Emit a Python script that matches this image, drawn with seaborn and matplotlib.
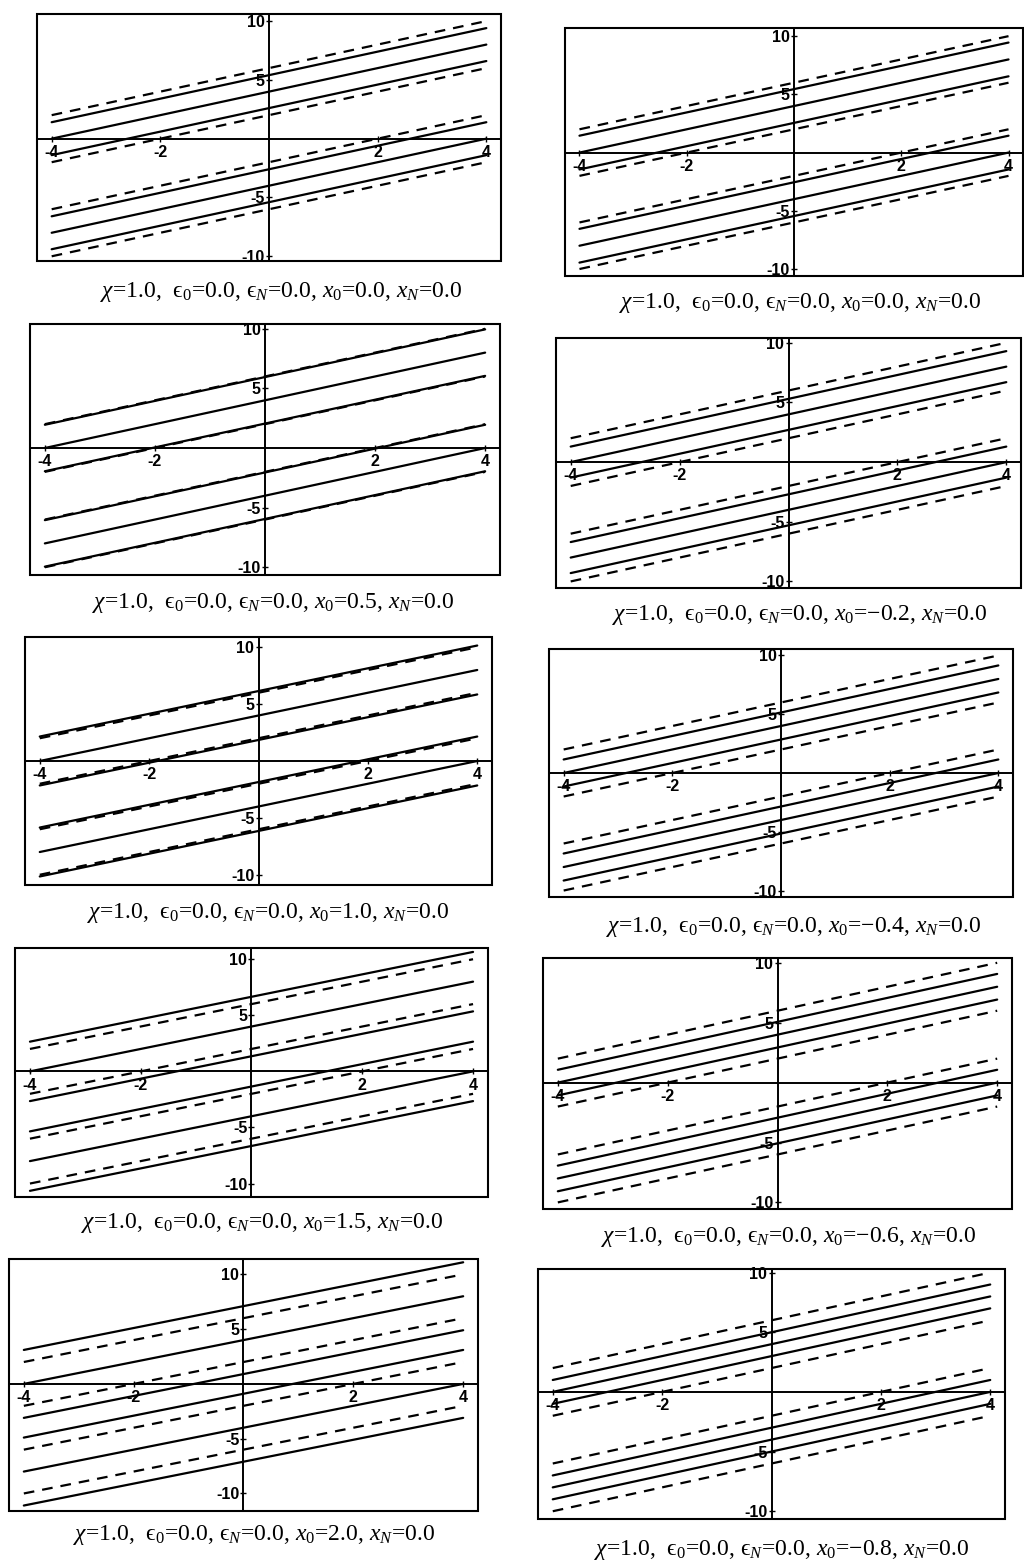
"""Ten panels of straight solution bands for several x0 values."""

import matplotlib
matplotlib.use("Agg")

import matplotlib.pyplot as plt
import pandas as pd
import seaborn as sns
from matplotlib.patches import Rectangle

W, H = 1024, 1561

# line end points are read at x = -4 and x = 4
LINE_X = [-4.0, 4.0]

X0_VALUES = [0.0, 0.0, 0.5, -0.2, 1.0, -0.4, 1.5, -0.6, 2.0, -0.8]

SOLID_LEFT = [
    [1.4, 0.0, -1.4, -6.6, -8.0, -9.4],
    [1.45, 0.0, -1.45, -6.55, -8.0, -9.45],
    [1.95, 0.0, -1.95, -6.05, -8.0, -9.95],
    [1.3, 0.0, -1.3, -6.7, -8.0, -9.3],
    [2.15, 0.0, -2.15, -5.85, -8.0, -10.15],
    [1.15, 0.0, -1.15, -6.85, -8.0, -9.15],
    [2.65, 0.0, -2.65, -5.35, -8.0, -10.65],
    [1.07, 0.0, -1.07, -6.93, -8.0, -9.07],
    [3.1, 0.0, -3.1, -4.9, -8.0, -11.1],
    [1.0, 0.0, -1.0, -7.0, -8.0, -9.0],
]
SOLID_RIGHT = [
    [9.4, 8.0, 6.6, 1.4, 0.0, -1.4],
    [9.45, 8.0, 6.55, 1.45, 0.0, -1.45],
    [9.95, 8.0, 6.05, 1.95, 0.0, -1.95],
    [9.3, 8.0, 6.7, 1.3, 0.0, -1.3],
    [10.15, 8.0, 5.85, 2.15, 0.0, -2.15],
    [9.15, 8.0, 6.85, 1.15, 0.0, -1.15],
    [10.65, 8.0, 5.35, 2.65, 0.0, -2.65],
    [9.07, 8.0, 6.93, 1.07, 0.0, -1.07],
    [11.1, 8.0, 4.9, 3.1, 0.0, -3.1],
    [9.0, 8.0, 7.0, 1.0, 0.0, -1.0],
]
DASHED_LEFT = [2.0, -2.0, -6.0, -10.0]
DASHED_RIGHT = [10.0, 6.0, 2.0, -2.0]

Y_LIMITS = [
    (-10.4, 10.6), (-10.6, 10.7), (-10.65, 10.4), (-10.55, 10.4), (-10.9, 10.9),
    (-10.55, 10.55), (-11.2, 11.0), (-10.55, 10.4), (-11.6, 11.4), (-10.65, 10.3),
]
X_TICKS = [-4, -2, 2, 4]
Y_TICKS = [-10, -5, 5, 10]

# frame boxes in pixels: left, right, top, bottom ; caption centre x, y
FRAMES = [
    (37, 501, 14, 261), (565, 1023, 28, 276),
    (30, 500, 324, 575), (556, 1021, 338, 588),
    (25, 492, 637, 885), (549, 1013, 649, 897),
    (15, 488, 948, 1197), (543, 1012, 958, 1209),
    (9, 478, 1259, 1511), (538, 1005, 1269, 1519),
]
CAPTIONS_AT = [
    (281, 292), (800, 303), (273, 603), (800, 615), (268, 913),
    (794, 927), (262, 1223), (789, 1237), (254, 1535), (782, 1550),
]

sns.set_style("white")
plt.rcParams["font.family"] = ["Liberation Sans", "DejaVu Sans"]
plt.rcParams["axes.unicode_minus"] = False
plt.rcParams["mathtext.fontset"] = "custom"
plt.rcParams["mathtext.rm"] = "Liberation Serif"
plt.rcParams["mathtext.it"] = "Liberation Serif:italic"
plt.rcParams["mathtext.bf"] = "Liberation Serif:bold"
plt.rcParams["mathtext.fallback"] = "stix"


def band_frame(left_vals, right_vals, kind):
    rows = []
    for k, (a, b) in enumerate(zip(left_vals, right_vals)):
        rows.append({"x": LINE_X[0], "y": a, "curve": f"{kind}{k}", "kind": kind})
        rows.append({"x": LINE_X[1], "y": b, "curve": f"{kind}{k}", "kind": kind})
    return rows


fig = plt.figure(figsize=(W / 100, H / 100), dpi=100)
fig.patch.set_facecolor("white")

for i, x0 in enumerate(X0_VALUES):
    l, r, t, b = FRAMES[i]
    ax = fig.add_axes([l / W, 1 - b / H, (r - l) / W, (b - t) / H])
    ax.set_facecolor("white")

    data = pd.DataFrame(
        band_frame(SOLID_LEFT[i], SOLID_RIGHT[i], "solid")
        + band_frame(DASHED_LEFT, DASHED_RIGHT, "dashed")
    )
    sns.lineplot(
        data=data, x="x", y="y", units="curve", style="kind",
        dashes={"solid": "", "dashed": (4.8, 3.6)},
        estimator=None, sort=False, color="black", lw=1.6,
        legend=False, ax=ax,
    )

    ax.set_xlim(-4.27, 4.27)
    ax.set_ylim(*Y_LIMITS[i])
    ax.set_xlabel("")
    ax.set_ylabel("")
    ax.spines["top"].set_visible(False)
    ax.spines["right"].set_visible(False)
    ax.spines["left"].set_position("zero")
    ax.spines["bottom"].set_position("zero")
    for side in ("left", "bottom"):
        ax.spines[side].set_linewidth(1.4)
        ax.spines[side].set_color("black")
    ax.add_patch(Rectangle((0, 0), 1, 1, transform=ax.transAxes, fill=False,
                           lw=1.5, ec="black", clip_on=False, zorder=5))

    ax.set_xticks(X_TICKS, labels=[str(v) for v in X_TICKS],
                  fontweight="bold", fontsize=11.5)
    ax.set_yticks(Y_TICKS, labels=[str(v) for v in Y_TICKS],
                  fontweight="bold", fontsize=11.5)
    ax.tick_params(axis="x", direction="inout", length=4, width=1, pad=2.5,
                   colors="black", bottom=True)
    ax.tick_params(axis="y", direction="inout", length=4, width=1, pad=1.0,
                   colors="black", left=True)

    x0_txt = f"{x0:.1f}".replace("-", "\u2212")
    caption = ("$\\chi$=1.0,  $\\mathrm{\u03f5}_0$=0.0, "
               "$\\mathrm{\u03f5}_N$=0.0, "
               f"$x_0$={x0_txt}, $x_N$=0.0")
    cx, cy = CAPTIONS_AT[i]
    fig.text(cx / W, 1 - cy / H, caption, ha="center", va="center",
             fontsize=17, family="Liberation Serif", color="black")

fig.savefig("out.png", dpi=100, facecolor="white")
